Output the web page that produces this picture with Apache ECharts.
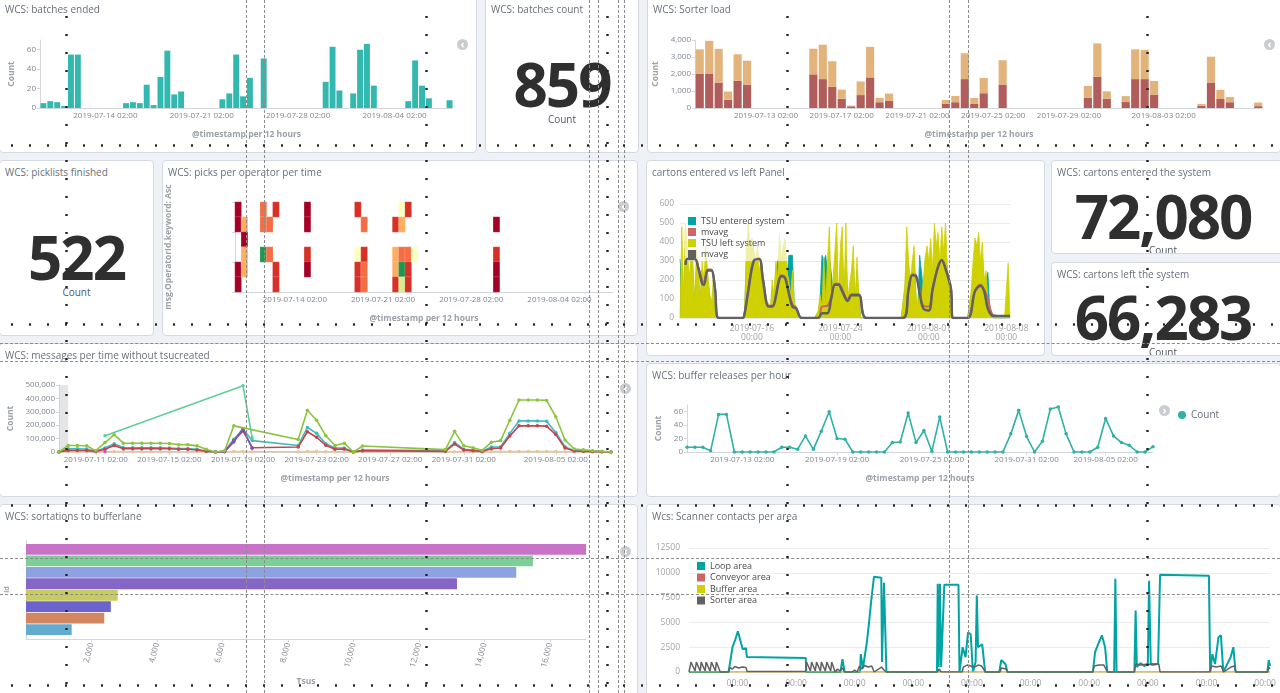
<!DOCTYPE html>
<html>
<head>
<meta charset="utf-8">
<title>WCS dashboard</title>
<script src="https://cdn.jsdelivr.net/npm/echarts@6.0.0/dist/echarts.min.js"></script>
<style>
  html, body { margin: 0; padding: 0; }
  body { width: 1280px; height: 693px; overflow: hidden; position: relative; background: #eef1f5; font-family: 'Open Sans', sans-serif; }
  .panel { position: absolute; background: #fff; border: 1px solid #d3dae6; border-radius: 4px; box-sizing: border-box; overflow: hidden; }
  .chart { position: absolute; left: 0; top: 0; width: 100%; height: 100%; }
  .ttl { position: absolute; left: 5px; top: 4px; font-size: 10px; line-height: 14px; color: #69707d; white-space: nowrap; }
  .big { position: absolute; left: 0; width: 100%; text-align: center; font-weight: 700; font-size: 60px; line-height: 60px; letter-spacing: -2px; color: #2f2f2f; white-space: nowrap; }
  .lbl { position: absolute; left: 0; width: 100%; text-align: center; font-size: 10px; line-height: 14px; color: #535966; }
  .tog { position: absolute; width: 11px; height: 11px; border-radius: 50%; background: #c9ccd1; color: #fff; font-size: 11px; line-height: 9px; text-align: center; font-weight: 700; }
  #guides { position: absolute; left: 0; top: 0; width: 1280px; height: 693px; pointer-events: none; z-index: 10; }
  .vd { position: absolute; top: 0; height: 693px; width: 0; border-left: 1px dashed #8c8c8c; }
  .hd { position: absolute; left: 0; width: 1280px; height: 0; border-top: 1px dashed #8c8c8c; }
  .vt { position: absolute; top: 0; height: 693px; width: 5px; margin-left: -2px; background-image: radial-gradient(circle at center, #222 0, #222 1px, transparent 1.4px); background-size: 5px 18px; background-position: 0 8px; }
  .ht { position: absolute; left: 0; width: 1280px; height: 5px; margin-top: -2px; background-image: radial-gradient(circle at center, #222 0, #222 1px, transparent 1.4px); background-size: 18px 5px; background-position: 3px 0; }
</style>
</head>
<body>

<div class="panel" style="left:-1px;top:-4px;width:478px;height:157px">
  <div class="chart" id="batches_ended"></div>
  <div class="ttl" style="top:5px">WCS: batches ended</div>
  <div class="tog" style="left:457px;top:42px">&lsaquo;</div>
</div>
<div class="panel" style="left:485px;top:-4px;width:154px;height:157px">
  <div class="ttl" style="top:5px">WCS: batches count</div>
  <div class="big" style="top:57px">859</div>
  <div class="lbl" style="top:115px">Count</div>
</div>
<div class="panel" style="left:647px;top:-4px;width:634px;height:157px">
  <div class="chart" id="sorter_load"></div>
  <div class="ttl" style="top:5px">WCS: Sorter load</div>
  <div class="tog" style="left:616px;top:42px">&lsaquo;</div>
</div>

<div class="panel" style="left:-1px;top:160px;width:155px;height:176px">
  <div class="ttl">WCS: picklists finished</div>
  <div class="big" style="top:66px">522</div>
  <div class="lbl" style="top:124px">Count</div>
</div>
<div class="panel" style="left:162px;top:160px;width:476px;height:176px">
  <div class="chart" id="picks_heat"></div>
  <div class="ttl">WCS: picks per operator per time</div>
  <div class="tog" style="left:455px;top:40px">&lsaquo;</div>
</div>
<div class="panel" style="left:646px;top:160px;width:399px;height:196px">
  <div class="chart" id="cartons_panel"></div>
  <div class="ttl">cartons entered vs left Panel</div>
</div>
<div class="panel" style="left:1051px;top:160px;width:235px;height:94px">
  <div class="ttl">WCS: cartons entered the system</div>
  <div class="big" style="top:25px;width:222px">72,080</div>
  <div class="lbl" style="top:82px;width:222px">Count</div>
</div>
<div class="panel" style="left:1051px;top:262px;width:235px;height:94px">
  <div class="ttl">WCS: cartons left the system</div>
  <div class="big" style="top:24px;width:222px">66,283</div>
  <div class="lbl" style="top:82px;width:222px">Count</div>
</div>

<div class="panel" style="left:-1px;top:343px;width:639px;height:154px">
  <div class="chart" id="messages"></div>
  <div class="ttl">WCS: messages per time without tsucreated</div>
  <div class="tog" style="left:620px;top:39px">&lsaquo;</div>
</div>
<div class="panel" style="left:646px;top:363px;width:635px;height:134px">
  <div class="chart" id="buffer_releases"></div>
  <div class="ttl">WCS: buffer releases per hour</div>
  <div class="tog" style="left:512px;top:41px">&rsaquo;</div>
</div>

<div class="panel" style="left:-1px;top:504px;width:639px;height:195px">
  <div class="chart" id="sortations"></div>
  <div class="ttl">WCS: sortations to bufferlane</div>
  <div class="tog" style="left:620px;top:41px">&lsaquo;</div>
</div>
<div class="panel" style="left:646px;top:504px;width:635px;height:195px">
  <div class="chart" id="scanner"></div>
  <div class="ttl">Wcs: Scanner contacts per area</div>
</div>

<div id="guides">
  <div class="vd" style="left:246px"></div>
  <div class="vd" style="left:264px"></div>
  <div class="vd" style="left:589px"></div>
  <div class="vd" style="left:598px"></div>
  <div class="vd" style="left:618px"></div>
  <div class="vd" style="left:624px"></div>
  <div class="vd" style="left:949px"></div>
  <div class="vd" style="left:968px"></div>
  <div class="hd" style="top:343px"></div>
  <div class="hd" style="top:361px"></div>
  <div class="hd" style="top:558px"></div>
  <div class="hd" style="top:594px"></div>
  <div class="vt" style="left:66px"></div>
  <div class="vt" style="left:426px"></div>
  <div class="vt" style="left:607px"></div>
  <div class="vt" style="left:787px"></div>
  <div class="vt" style="left:1147px"></div>
  <div class="ht" style="top:145px"></div>
  <div class="ht" style="top:324px"></div>
  <div class="ht" style="top:505px"></div>
  <div class="ht" style="top:685px"></div>
</div>

<script>
// ---------- buckets / categories ----------
function bucketLabels(startUTC, stepHours, count) {
    let out = [];
    let p = function (v) { return String(v).padStart(2, '0'); };
    for (let i = 0; i < count; i++) {
        let d = new Date(startUTC + i * stepHours * 3600000);
        out.push(d.getUTCFullYear() + '-' + p(d.getUTCMonth() + 1) + '-' + p(d.getUTCDate()) +
            ' ' + p(d.getUTCHours()) + ':' + p(d.getUTCMinutes()));
    }
    return out;
}
const bins12h = bucketLabels(Date.UTC(2019, 6, 9, 14), 12, 60);     // 12 hour buckets
const msgBins = bucketLabels(Date.UTC(2019, 6, 9, 2), 12, 61);
const cartonSlots = bucketLabels(Date.UTC(2019, 6, 9, 12), 4, 180);  // 4 hour slots

// tick label positions (bucket index)
const batchesTicks = [9, 23, 37, 51];
const sorterTicks = [7, 15, 23, 31, 39, 49];
const picksTicks = [9, 23, 37, 51];
const cartonTicks = [39, 87, 135, 177];
const msgTicks = [4, 12, 20, 28, 36, 44, 54];
const bufferTicks = [7, 19, 31, 43, 53];
const scannerMidnights = [0, 24, 48, 72, 96, 120, 144, 168, 192, 216];   // hours

// ---------- data ----------
// WCS: batches ended (count per 12h)
const batchesEnded = [5, 7, 6, 2, 55, 55, 0, 0, 0, 0, 0, 0,
    5, 6, 5, 24, 3, 32, 59, 14, 17, 0, 0, 0, 0, 0,
    9, 15, 55, 12, 31, 0, 51, 0, 0, 0, 0, 0, 0, 0, 0,
    27, 63, 18, 0, 15, 60, 66, 23, 0, 0, 0, 0,
    7, 49, 23, 10, 0, 0, 8];

// WCS: Sorter load (stacked)
const sorterBottom = [2000, 2000, 1500, 490, 1600, 1380, 0, 0, 0, 0, 0, 0,
    1980, 1700, 1240, 540, 100, 760, 1800, 340, 410, 0, 0, 0, 0, 0,
    240, 340, 1700, 240, 870, 0, 1380, 0, 0, 0, 0, 0, 0, 0, 0,
    610, 1840, 550, 0, 350, 1700, 1700, 790, 0, 0, 0, 0,
    140, 1500, 530, 340, 0, 0, 110];
const sorterTop = [1450, 1950, 1980, 480, 1560, 1400, 0, 0, 0, 0, 0, 0,
    1510, 2020, 1510, 540, 40, 800, 1800, 260, 440, 0, 0, 0, 0, 0,
    230, 370, 1520, 350, 900, 0, 1430, 0, 0, 0, 0, 0, 0, 0, 0,
    690, 1960, 430, 0, 350, 1750, 1720, 800, 0, 0, 0, 0,
    100, 1520, 540, 310, 0, 0, 210];

// WCS: picks per operator per time  [bucket, operator row (top first), colour level]
const operators = ['op1', 'op2', 'op3', 'op4', 'op5', 'op6'];
const pickLevelColors = ['#a50026', '#d73027', '#f46d43', '#fdae61', '#fee08b', '#ffffbf', '#d9ef8b', '#1a9850'];
const pickCells = [
    [0, 0, 1], [0, 1, 1], [0, 4, 1], [0, 5, 1],
    [1, 1, 4], [1, 2, 1], [1, 3, 4], [1, 4, 4],
    [4, 0, 3], [4, 1, 3], [4, 3, 8],
    [5, 1, 3], [5, 3, 3],
    [6, 0, 2], [6, 4, 2], [6, 5, 2],
    [11, 0, 1], [11, 1, 1], [11, 3, 2], [11, 4, 1],
    [19, 0, 2], [19, 3, 6], [19, 4, 2], [19, 5, 2],
    [20, 1, 3], [20, 3, 2], [20, 4, 3], [20, 5, 3],
    [25, 1, 2], [25, 3, 4], [25, 4, 4], [25, 5, 2],
    [26, 0, 6], [26, 1, 4], [26, 3, 3], [26, 4, 8], [26, 5, 7],
    [27, 0, 2], [27, 3, 3], [27, 4, 2], [27, 5, 2],
    [28, 3, 6],
    [41, 1, 1], [41, 3, 2], [41, 4, 1], [41, 5, 1]
];

// cartons entered vs left (per 4h slot, one line per day)
const tsuEntered = [
    310, 300, 100, 350, 300, 150,
    300, 250, 60, 300, 200, 80,
    250, 150, 300, 200, 120, 50,
    150, 20, 0, 0, 0, 0,
    0, 0, 0, 0, 0, 0,
    0, 0, 0, 0, 0, 20,
    300, 330, 300, 330, 300, 250,
    300, 200, 250, 120, 100, 50,
    60, 30, 150, 100, 250, 300,
    330, 250, 300, 330, 200, 330,
    330, 330, 60, 50, 15, 0,
    0, 0, 0, 0, 0, 0,
    0, 0, 0, 30, 100, 330,
    300, 330, 250, 330, 330, 150,
    300, 330, 50, 300, 330, 100,
    330, 80, 150, 200, 300, 60,
    250, 100, 0, 0, 0, 0,
    0, 0, 0, 0, 0, 0,
    0, 0, 0, 0, 0, 0,
    0, 0, 0, 0, 0, 0,
    0, 0, 150, 330, 250, 150,
    250, 330, 100, 50, 330, 330,
    150, 300, 330, 250, 330, 200,
    330, 330, 330, 250, 330, 300,
    330, 250, 120, 40, 0, 0,
    0, 0, 0, 0, 0, 0,
    0, 0, 120, 250, 330, 330,
    330, 250, 330, 150, 200, 240,
    50, 15, 0, 0, 0, 0,
    0, 0, 0, 0, 0, 0
];
const tsuLeft = [
    0, 480, 120, 500, 380, 200,
    350, 300, 80, 360, 250, 100,
    300, 200, 380, 240, 150, 60,
    200, 30, 0, 0, 0, 0,
    0, 0, 0, 0, 0, 0,
    0, 0, 0, 0, 0, 30,
    360, 500, 380, 420, 360, 300,
    380, 250, 300, 150, 120, 60,
    80, 40, 200, 120, 300, 200,
    440, 300, 380, 420, 250, 200,
    120, 250, 80, 60, 20, 0,
    0, 0, 0, 0, 0, 0,
    0, 0, 0, 40, 120, 60,
    320, 80, 300, 480, 100, 200,
    350, 500, 60, 380, 480, 120,
    500, 100, 180, 250, 380, 80,
    320, 120, 0, 0, 0, 0,
    0, 0, 0, 0, 0, 0,
    0, 0, 0, 0, 0, 0,
    0, 0, 0, 0, 0, 0,
    0, 0, 180, 480, 300, 200,
    300, 380, 120, 60, 150, 100,
    200, 320, 380, 300, 420, 250,
    500, 380, 450, 300, 480, 350,
    500, 280, 150, 50, 0, 0,
    0, 0, 0, 0, 0, 0,
    0, 0, 150, 300, 420, 380,
    450, 300, 400, 200, 250, 100,
    60, 20, 0, 0, 0, 0,
    0, 0, 0, 0, 290, 0
];
// moving averages  [slot, value]
const tsuEnteredAvg = [[3, 290], [4, 315], [8, 315], [10, 265], [12, 200], [13, 190], [15, 255], [17, 255], [19, 160], [21, 0],
    [34, 0], [35, 25], [37, 150], [40, 305], [43, 315], [45, 210], [48, 65], [50, 65], [55, 225], [57, 215], [59, 140], [61, 70], [63, 55], [66, 0],
    [75, 0], [77, 60], [80, 65], [82, 110], [84, 180], [86, 180], [88, 150], [90, 105], [91, 95], [93, 125], [97, 125], [101, 0],
    [121, 0], [124, 155], [126, 230], [128, 225], [130, 140], [132, 65], [135, 60], [137, 155], [140, 270], [142, 300], [144, 265], [147, 160], [148, 0],
    [156, 0], [160, 145], [163, 175], [165, 150], [167, 100], [170, 15], [175, 10], [179, 10]];
const tsuLeftAvg = [[3, 280], [4, 310], [8, 310], [10, 260], [12, 180], [13, 175], [15, 250], [17, 250], [19, 150], [21, 0],
    [34, 0], [35, 20], [37, 140], [40, 300], [43, 310], [45, 200], [48, 60], [50, 60], [55, 220], [57, 210], [59, 130], [61, 60], [63, 50], [66, 0],
    [75, 0], [77, 25], [80, 25], [82, 100], [84, 175], [86, 175], [88, 140], [90, 100], [91, 90], [93, 120], [97, 120], [101, 0],
    [121, 0], [124, 150], [126, 225], [128, 220], [130, 130], [132, 50], [135, 40], [137, 150], [140, 270], [142, 305], [144, 260], [147, 150], [148, 0],
    [156, 0], [160, 140], [163, 170], [165, 140], [167, 50], [170, 10], [175, 10], [179, 10]];

// WCS: messages per time without tsucreated
const msgGreen = [0, 49000, 48000, 47000, 10000, 70000, 129000, 66000, 65000, 65000, 65000, 65000, 63000, 55000, 55000, 46000, 20000, 0, 10000, 195000,
    null, null, null, null, null, null, 93000, 312000, 237000, 122000, 49000, 66000, 0, 45000,
    null, null, null, null, null, null, null, null,
    18000, 154000, 46000, 32000, 12000, 73000, 85000, 237000, 388000, 388000, 388000, 385000, 263000, 90000, 22000, 17000, 10000, 5000, 0];
const msgTeal = [0, 24000, 24000, 22000, 5000, 30000, 61000, 32000, 32000, 32000, 32000, 32000, 30000, 25000, 25000, 20000, 8000, 0, 5000, 95000, 171000, 85000,
    null, null, null, null, 48000, 183000, 139000, 61000, 30000, 30000, 0, 15000,
    null, null, null, null, null, null, null, null,
    10000, 71000, 20000, 15000, 5000, 37000, 39000, 139000, 232000, 232000, 232000, 230000, 146000, 40000, 10000, 8000, 5000, 2000, 0];
const msgRed = [0, 12000, 12000, 11000, 3000, 20000, 49000, 25000, 25000, 25000, 25000, 25000, 24000, 20000, 20000, 15000, 5000, 0, 3000, 85000, 158000, 32000,
    null, null, null, null, 37000, 151000, 110000, 50000, 20000, 22000, 0, 10000,
    null, null, null, null, null, null, null, null,
    5000, 60000, 15000, 10000, 3000, 25000, 30000, 120000, 195000, 195000, 195000, 193000, 130000, 30000, 8000, 5000, 3000, 1000, 0];
const msgTan = [0, 2000, 2000, 2000, 1000, 2000, 3000, 2000, 2000, 2000, 2000, 2000, 2000, 2000, 2000, 1000, 1000, 0, 1000, 3000, 4000, 2000,
    null, null, null, null, 2000, 3000, 3000, 2000, 1000, 1000, 0, 1000,
    null, null, null, null, null, null, null, null,
    1000, 2000, 1000, 1000, 0, 1000, 2000, 3000, 4000, 4000, 4000, 4000, 3000, 2000, 1000, 1000, 0, 0, 0];
const msgPurple = [[17, 0], [18, 2000], [19, 75000], [20, 176000], [21, 28000]];
const msgSparse = [[5, 122000], [20, 495000], [21, 105000]];
const msgMagenta = [[5, 3000]];

// WCS: buffer releases per hour
const bufferReleases = [7, 7, 7, 2, 56, 56, 0, 0, 0, 0, 0, 0,
    7, 7, 4, 24, 4, 31, 60, 20, 19, 0, 0, 0, 0, 0,
    14, 15, 58, 14, 32, 1, 52, 0, 0, 0, 0, 0, 0, 0, 0,
    27, 62, 23, 0, 16, 64, 67, 27, 0, 0, 0,
    7, 50, 24, 14, 10, 0, 0, 8];

// WCS: sortations to bufferlane (top bar first)
const laneNames = ['lane 1', 'lane 2', 'lane 3', 'lane 4', 'lane 5', 'lane 6', 'lane 7', 'lane 8'];
const laneTsus = [17100, 15480, 14970, 13160, 2800, 2590, 2390, 1395];
const laneColors = ['#c973c8', '#7dcf98', '#8ea1e0', '#8566c5', '#c8cc60', '#6c63cd', '#d2865f', '#63abcf'];

// Wcs: Scanner contacts per area  [hours from first midnight, contacts]
const loopArea = [[-19.8, 0], [-3.6, 0], [-2, 2500], [-0.8, 3300], [0.2, 4100], [1.4, 3000], [2.2, 2300], [3.5, 2400], [3.9, 1500], [28, 1400], [28.2, 0],
    [42.2, 0], [43, 1300], [43.9, 0], [50.2, 0], [50.5, 1800], [51.4, 400], [53, 3000], [53.9, 5000], [54.7, 7000], [55.9, 9600], [58.9, 9500], [59.2, 1000], [60, 9000], [61, 0],
    [81.7, 0], [82, 8900], [82.4, 500], [82.9, 8900], [83.4, 500], [84.7, 8800], [90.5, 8800], [90.9, 0], [92.2, 2500], [93.4, 1500], [94.4, 4000], [95.5, 3800], [96.4, 0],
    [97.5, 1000], [98, 7700], [98.5, 2500], [100.2, 2800], [101.4, 0], [107.2, 0], [108, 1200], [109.7, 800], [110.5, 0],
    [145.5, 0], [146.4, 2000], [148, 3000], [149.2, 3700], [150.5, 2500], [151.4, 0], [154.2, 0], [154.7, 9400], [155.2, 0],
    [162.5, 0], [163, 6200], [163.5, 500], [165, 900], [166.5, 600], [168, 800], [168.5, 9200], [169.2, 800], [172.2, 800], [173, 9800], [193, 9700], [193.5, 0],
    [194.4, 1800], [195.5, 800], [196.9, 3500], [197.9, 3700], [198.9, 0], [201.9, 1500], [203, 2500], [203.9, 0], [216.9, 0], [217.5, 1200], [218, 600]];
const sorterArea = [[-19.8, 0], [-19, 1000], [-18.2, 1000], [-17.3, 100], [-16.8, 1000], [-16, 1000], [-15.2, 100], [-14.8, 1000], [-14, 1000], [-13.2, 100],
    [-12.8, 1000], [-12, 1000], [-11.2, 100], [-10.6, 1000], [-9.8, 1000], [-9, 100], [-8.6, 1000], [-7.8, 1000], [-7, 0], [-3.6, 0],
    [-3, 450], [-2, 300], [-1, 550], [0.5, 400], [2, 500], [3.5, 450], [4, 50], [28, 50], [28.3, 1000], [29.1, 1000], [29.9, 100], [30.4, 1000], [31.1, 1000], [31.9, 100],
    [32.4, 1000], [33.2, 1000], [34, 100], [34.4, 1000], [35.2, 1000], [36, 100], [36.6, 1000], [37.4, 1000], [38.2, 100], [38.6, 1000], [39.3, 1000], [40, 0],
    [41, 300], [42, 100], [43, 400], [44, 0], [47, 0], [48, 200], [49, 0], [50, 600], [51, 300], [52, 650], [53.5, 500], [55, 600], [56, 0], [59, 500], [60, 200], [61, 0],
    [82, 0], [82.5, 300], [83.5, 0], [92, 0], [92.5, 500], [94, 700], [95.5, 600], [97, 500], [98.5, 700], [100, 600], [101.5, 0], [107.5, 0], [108, 400], [110, 300], [110.5, 0],
    [145.5, 0], [146, 600], [148, 700], [150, 700], [151.5, 0], [162.5, 0], [163, 800], [165, 700], [168, 800], [170, 700], [172.5, 800], [173, 0],
    [193.5, 0], [194, 600], [196, 500], [198, 600], [199, 0], [202, 500], [203.5, 600], [204, 0], [217, 0], [217.5, 500], [218, 300]];
const conveyorArea = [[-19.8, 0], [218, 0]];
const bufferArea = [[-19.8, 0], [218, 0]];

// ---------- styling helpers ----------
const FONT = "'Open Sans', sans-serif";
const TICK = '#80868f';
const AXIS = '#d3d6db';
const AXIS_TITLE = '#9ba1a9';

function kbnCatX(cats, ticks, name, boundaryGap) {
    let show = function (i) { return ticks.indexOf(i) >= 0; };
    return {
        type: 'category', data: cats, boundaryGap: boundaryGap,
        name: name, nameLocation: 'middle', nameGap: 22,
        nameTextStyle: { color: AXIS_TITLE, fontSize: 8.5, fontWeight: 'bold' },
        axisLine: { lineStyle: { color: AXIS } },
        axisTick: { interval: show, alignWithLabel: true, length: 3, lineStyle: { color: AXIS } },
        axisLabel: { interval: show, color: TICK, fontSize: 8, margin: 4 },
        splitLine: { show: false }
    };
}

function kbnValY(max, step, name, gap, showMax) {
    return {
        type: 'value', min: 0, max: max, interval: step,
        name: name, nameLocation: 'middle', nameGap: gap,
        nameTextStyle: { color: AXIS_TITLE, fontSize: 8.5, fontWeight: 'bold' },
        axisLine: { show: true, lineStyle: { color: AXIS } },
        axisTick: { show: true, length: 3, lineStyle: { color: AXIS } },
        axisLabel: { color: TICK, fontSize: 8, margin: 4, showMaxLabel: showMax,
            formatter: function (v) { return v.toLocaleString('en-US'); } },
        splitLine: { show: false }
    };
}

function draw(id, option) {
    let chart = echarts.init(document.getElementById(id));
    option.animation = false;
    option.textStyle = { fontFamily: FONT };
    option.grid.outerBoundsMode = 'none';
    chart.setOption(option, true);
    return chart;
}

// ---------- charts ----------
draw('batches_ended', {
    grid: { left: 40, right: 23, top: 43, bottom: 44 },
    xAxis: kbnCatX(bins12h, batchesTicks, '@timestamp per 12 hours', true),
    yAxis: kbnValY(70, 20, 'Count', 24, false),
    series: [{ type: 'bar', data: batchesEnded, barCategoryGap: '14%', itemStyle: { color: '#33b8af' } }]
});

draw('sorter_load', {
    grid: { left: 47, right: 17, top: 43, bottom: 44 },
    xAxis: kbnCatX(bins12h, sorterTicks, '@timestamp per 12 hours', true),
    yAxis: kbnValY(4000, 1000, 'Count', 32, true),
    series: [
        { type: 'bar', stack: 'load', data: sorterBottom, barCategoryGap: '14%', itemStyle: { color: '#b15d5c' } },
        { type: 'bar', stack: 'load', data: sorterTop, itemStyle: { color: '#e3b37c' } }
    ]
});

draw('picks_heat', {
    grid: { left: 72, right: 24, top: 41, bottom: 43 },
    xAxis: kbnCatX(bins12h, picksTicks, '@timestamp per 12 hours', true),
    yAxis: {
        type: 'category', data: operators, inverse: true,
        name: 'msg.OperatorId.keyword: Asc', nameLocation: 'middle', nameGap: 62,
        nameTextStyle: { color: AXIS_TITLE, fontSize: 8.5, fontWeight: 'bold' },
        axisLine: { show: true, lineStyle: { color: AXIS } },
        axisTick: { show: true, length: 3, lineStyle: { color: AXIS } },
        axisLabel: { show: false },
        splitLine: { show: false }
    },
    visualMap: {
        show: false, type: 'piecewise', dimension: 2,
        pieces: pickLevelColors.map(function (c, i) { return { value: i + 1, color: c }; })
    },
    series: [{
        type: 'heatmap', data: pickCells,
        itemStyle: { borderColor: 'rgba(255,255,255,0.35)', borderWidth: 0.5 }
    }]
});

draw('cartons_panel', {
    grid: { left: 33, right: 34, top: 43, bottom: 37 },
    legend: {
        left: 38, top: 53, orient: 'vertical', icon: 'rect',
        itemWidth: 8, itemHeight: 8, itemGap: 1,
        backgroundColor: 'rgba(255,255,255,0.65)', padding: [2, 3],
        textStyle: { color: '#4a4a4a', fontSize: 9, lineHeight: 10 },
        formatter: function (n) { return n.trim(); },
        data: ['TSU entered system', 'mvavg', 'TSU left system', 'mvavg ']
    },
    xAxis: {
        type: 'category', data: cartonSlots, boundaryGap: false,
        axisLine: { show: false }, axisTick: { show: false }, splitLine: { show: false },
        axisLabel: {
            interval: function (i) { return cartonTicks.indexOf(i) >= 0; },
            formatter: function (v) { return v.replace(' ', '\n'); },
            color: '#a3a3a3', fontSize: 8.5, lineHeight: 9, margin: 6
        }
    },
    yAxis: {
        type: 'value', min: 0, max: 600, interval: 100,
        axisLine: { show: false }, axisTick: { show: false },
        axisLabel: { color: '#a3a3a3', fontSize: 8.5, margin: 6 },
        splitLine: { lineStyle: { color: '#ebebeb' } }
    },
    series: [
        { name: 'TSU entered system', type: 'line', data: tsuEntered, symbol: 'none', z: 1,
            itemStyle: { color: '#01A4A4' }, lineStyle: { width: 0.8, color: '#01A4A4' }, areaStyle: { color: '#01A4A4', opacity: 1 } },
        { name: 'TSU left system', type: 'line', data: tsuLeft, symbol: 'none', z: 2,
            itemStyle: { color: '#D0D102' }, lineStyle: { width: 0.8, color: '#D0D102' }, areaStyle: { color: '#D0D102', opacity: 1 } },
        { name: 'mvavg', type: 'line', data: tsuEnteredAvg, symbol: 'none', smooth: 0.35, z: 3,
            itemStyle: { color: '#CC6666' }, lineStyle: { width: 2, color: '#CC6666' } },
        { name: 'mvavg ', type: 'line', data: tsuLeftAvg, symbol: 'none', smooth: 0.35, z: 4,
            itemStyle: { color: '#616161' }, lineStyle: { width: 2.5, color: '#616161' } }
    ]
});

function msgLine(data, color, z) {
    return {
        type: 'line', data: data, connectNulls: true, z: z,
        symbol: 'circle', symbolSize: 3.5, showSymbol: true,
        itemStyle: { color: color }, lineStyle: { width: 1.6, color: color }
    };
}
let msgSeries = [
    msgLine(msgTan, '#e7c79a', 2),
    msgLine(msgTeal, '#3dbcc0', 3),
    msgLine(msgRed, '#c4434f', 4),
    msgLine(msgPurple, '#6b5cc4', 5),
    msgLine(msgGreen, '#8cc43f', 6),
    msgLine(msgSparse, '#5dcf98', 7),
    msgLine(msgMagenta, '#d04fd0', 8)
];
msgSeries[1].markArea = {
    silent: true, itemStyle: { color: 'rgba(205,208,212,0.55)' },
    data: [[{ xAxis: msgBins[0] }, { xAxis: msgBins[1] }]]
};
draw('messages', {
    grid: { left: 59, right: 26, top: 41, bottom: 44 },
    xAxis: kbnCatX(msgBins, msgTicks, '@timestamp per 12 hours', false),
    yAxis: kbnValY(500000, 100000, 'Count', 44, true),
    series: msgSeries
});

draw('buffer_releases', {
    grid: { left: 40, right: 127, top: 41, bottom: 44 },
    legend: {
        left: 526, top: 41, icon: 'circle', itemWidth: 8, itemHeight: 8,
        textStyle: { color: '#69707d', fontSize: 10 }, data: ['Count']
    },
    xAxis: kbnCatX(bins12h, bufferTicks, '@timestamp per 12 hours', false),
    yAxis: kbnValY(70, 20, 'Count', 24, false),
    series: [{
        name: 'Count', type: 'line', data: bufferReleases,
        symbol: 'circle', symbolSize: 3.5,
        itemStyle: { color: '#2fb1a6' }, lineStyle: { width: 1.6, color: '#2fb1a6' }
    }]
});

draw('sortations', {
    grid: { left: 26, right: 51, top: 35, bottom: 59 },
    xAxis: {
        type: 'value', min: 0, max: 17100, interval: 2000,
        name: 'Tsus', nameLocation: 'middle', nameGap: 38,
        nameTextStyle: { color: AXIS_TITLE, fontSize: 8.5, fontWeight: 'bold' },
        axisLine: { show: true, lineStyle: { color: AXIS } },
        axisTick: { show: true, length: 3, lineStyle: { color: AXIS } },
        axisLabel: { color: TICK, fontSize: 8, rotate: 75, margin: 4, showMaxLabel: false, showMinLabel: false,
            formatter: function (v) { return v.toLocaleString('en-US'); } },
        splitLine: { show: false }
    },
    yAxis: {
        type: 'category', data: [''],
        name: 'id', nameLocation: 'middle', nameGap: 16,
        nameTextStyle: { color: AXIS_TITLE, fontSize: 7, fontWeight: 'bold' },
        axisLine: { show: true, lineStyle: { color: AXIS } },
        axisTick: { show: false }, axisLabel: { show: false }
    },
    series: laneNames.map(function (n, i) {
        return {
            name: n, type: 'bar', data: [laneTsus[i]],
            barGap: '6%', barCategoryGap: '8%',
            itemStyle: { color: laneColors[i] }
        };
    })
});

function scanLine(name, data, color, width, z) {
    return {
        name: name, type: 'line', data: data, symbol: 'none', z: z,
        itemStyle: { color: color }, lineStyle: { width: width, color: color }
    };
}
draw('scanner', {
    grid: { left: 42, right: 10, top: 43, bottom: 26 },
    legend: {
        left: 47, top: 54, orient: 'vertical', icon: 'rect',
        itemWidth: 8, itemHeight: 8, itemGap: 1.5,
        backgroundColor: 'rgba(255,255,255,0.65)', padding: [2, 3],
        textStyle: { color: '#4a4a4a', fontSize: 9, lineHeight: 10 },
        data: ['Loop area', 'Conveyor area', 'Buffer area', 'Sorter area']
    },
    xAxis: {
        type: 'value', min: -19.8, max: 218,
        axisLine: { show: false }, axisTick: { show: false }, splitLine: { show: false },
        axisLabel: { customValues: scannerMidnights, formatter: function () { return '00:00'; },
            color: '#a3a3a3', fontSize: 8.5, margin: 7 }
    },
    yAxis: {
        type: 'value', min: 0, max: 12500, interval: 2500,
        axisLine: { show: false }, axisTick: { show: false },
        axisLabel: { color: '#a3a3a3', fontSize: 8.5, margin: 9,
            formatter: function (v) { return String(v); } },
        splitLine: { lineStyle: { color: '#ebebeb' } }
    },
    series: [
        scanLine('Loop area', loopArea, '#01A4A4', 2, 2),
        scanLine('Conveyor area', conveyorArea, '#CC6666', 1, 3),
        scanLine('Buffer area', bufferArea, '#D0D102', 1, 4),
        scanLine('Sorter area', sorterArea, '#616161', 1.5, 5)
    ]
});
</script>
</body>
</html>
